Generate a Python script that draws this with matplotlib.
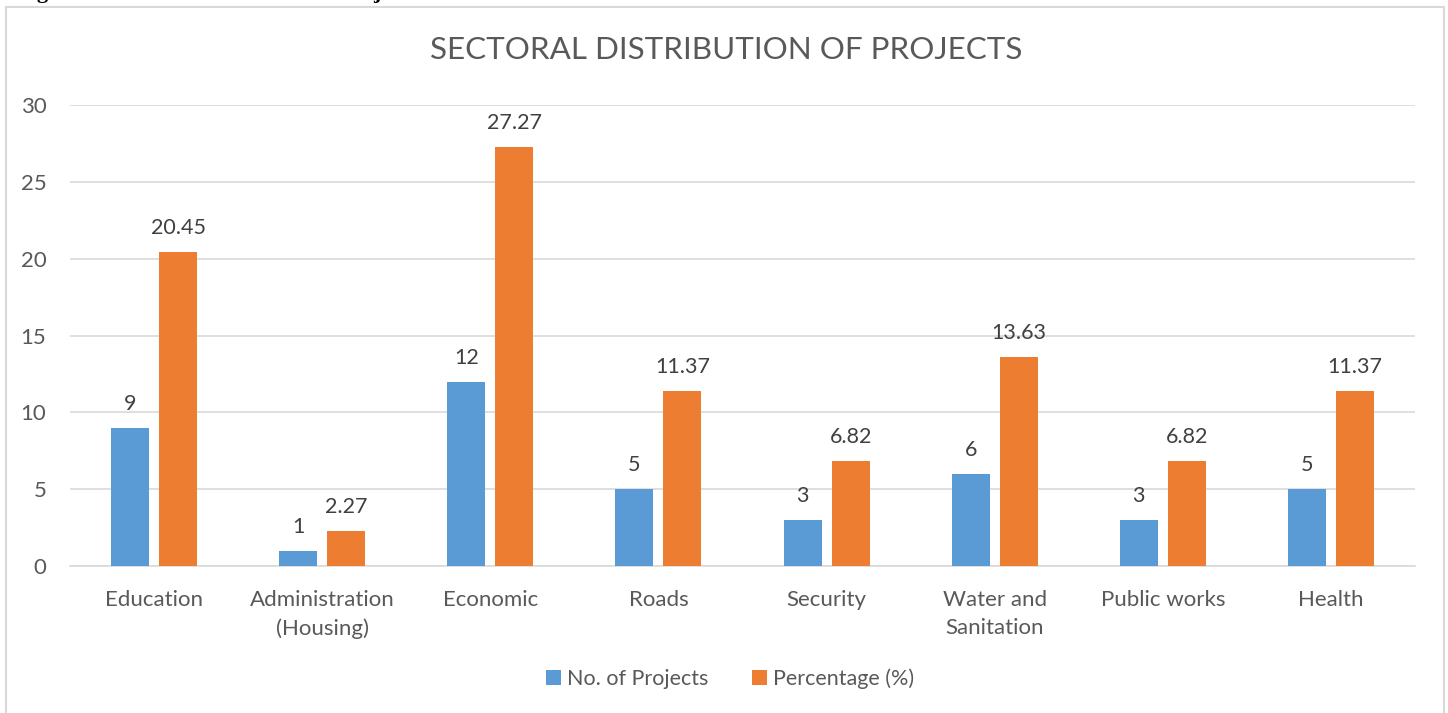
import matplotlib.pyplot as plt
from matplotlib.patches import Rectangle
import numpy as np

# chart data
sectors = ["Education", "Administration\n(Housing)", "Economic", "Roads", "Security",
           "Water and\nSanitation", "Public works", "Health"]
num_projects = [9, 1, 12, 5, 3, 6, 3, 5]
percentage = [20.45, 2.27, 27.27, 11.37, 6.82, 13.63, 6.82, 11.37]

plt.rcParams['font.family'] = ['Lato', 'DejaVu Sans']
txt = "#595959"
grid = "#d9d9d9"
blue = "#5b9bd5"
orange = "#ed7d31"

fig = plt.figure(figsize=(14.48, 7.13), dpi=100)
ax = fig.add_axes([70 / 1448, 1 - 566 / 713, 1345 / 1448, 461 / 713])

# outer chart frame (bottom edge is cut off in the original)
fig.patches.append(Rectangle((6 / 1448, -0.05), 1438 / 1448, 1.05 - 7 / 713,
                             transform=fig.transFigure, fill=False,
                             edgecolor=grid, linewidth=1.5))

# caption above the frame, mostly cut off at the top edge like the original
fig.text(0.012, 1 + 2 / 713, "Figure 8: Sectoral Distribution of Projects", ha="left", va="baseline",
         fontsize=16, fontweight="bold", family="Liberation Serif", color="black")

x = np.arange(len(sectors))
w = 0.226
off = 0.143
b1 = ax.bar(x - off, num_projects, w, color=blue, label="No. of Projects", zorder=3)
b2 = ax.bar(x + off, percentage, w, color=orange, label="Percentage (%)", zorder=3)

for rect, v in zip(b1, num_projects):
    ax.text(rect.get_x() + rect.get_width() / 2, v + 0.9, f"{v:g}", ha="center", va="bottom",
            fontsize=15.5, color="#404040")
for rect, v in zip(b2, percentage):
    ax.text(rect.get_x() + rect.get_width() / 2, v + 0.9, f"{v:.2f}", ha="center", va="bottom",
            fontsize=15.5, color="#404040")

ax.set_xlim(-0.5, len(sectors) - 0.5)
ax.set_ylim(0, 30)
ax.set_yticks(range(0, 31, 5))
ax.set_xticks(x)
ax.set_xticklabels(sectors, fontsize=16, color=txt, linespacing=1.5)
ax.tick_params(axis="y", labelsize=16, labelcolor=txt, length=0, pad=17)
ax.tick_params(axis="x", length=0, pad=17)
ax.grid(axis="y", color=grid, linewidth=1.2, zorder=0)
for s in ["top", "right", "left"]:
    ax.spines[s].set_visible(False)
ax.spines["bottom"].set_color(grid)
ax.spines["bottom"].set_linewidth(1.2)

fig.text(726 / 1448, 1 - 50 / 713, "SECTORAL DISTRIBUTION OF PROJECTS", ha="center", va="center",
         fontsize=22.6, color=txt)

fig.legend(loc="center", bbox_to_anchor=(730 / 1448, 1 - 679 / 713), ncol=2, frameon=False,
           fontsize=15.5, handlelength=0.7, handleheight=0.7, handletextpad=0.3,
           columnspacing=2.0, labelcolor=txt)

fig.savefig("out.png", dpi=100)
